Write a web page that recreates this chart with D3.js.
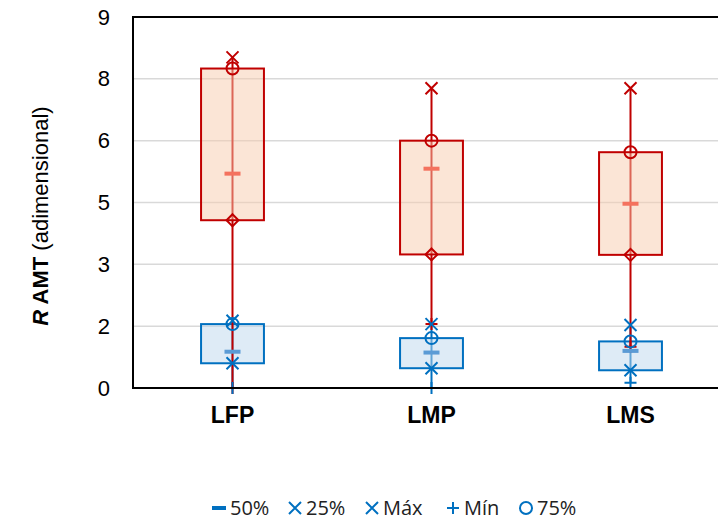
<!DOCTYPE html>
<html><head><meta charset="utf-8">
<script src="https://cdn.jsdelivr.net/npm/d3@7/dist/d3.min.js"></script>
<style>body{margin:0;background:#fff}svg{display:block}</style>
</head><body><svg id="c" width="718" height="521"></svg>
<script>
const categories = ["LFP","LMP","LMS"];
const redMax = [8.02, 7.27, 7.27];
const red75 = [7.75, 6.0, 5.72];
const red50 = [5.2, 5.32, 4.47];
const red25 = [4.07, 3.24, 3.23];
const redMin = [0, 1.55, 1.0];
const blueMax = [1.63, 1.55, 1.53];
const blue75 = [1.55, 1.21, 1.13];
const blue50 = [0.88, 0.86, 0.90];
const blue25 = [0.60, 0.48, 0.43];
const blueMin = [0, 0, 0.13];
const tickValues = [0, 1.5, 3, 4.5, 6, 7.5, 9];
const tickLabels = ["0","2","3","5","6","8","9"];
const legendLabels = ["50%","25%","Máx","Mín","75%"];

const svg = d3.select("#c");
const L = 133, T = 17, B = 388, R = 730;
const y = d3.scaleLinear().domain([0, 9]).range([B, T]);
const x = d3.scaleBand().domain(categories).range([L, R]).padding(0);
const cx = c => x(c) + x.bandwidth() / 2;
const boxW = x.bandwidth() * 0.316;

// gridlines
svg.append("g").selectAll("line").data(tickValues.filter(v => v > 0 && v < 9)).join("line")
  .attr("x1", L).attr("x2", R).attr("y1", d => y(d)).attr("y2", d => y(d))
  .attr("stroke", "#d9d9d9").attr("stroke-width", 1.5);

const RED = "#c00000", BLUE = "#0070c0";
const series = [
  {col: BLUE, fill: "#bdd7ee", med: "#5b9bd5", max: blueMax, q3: blue75, q2: blue50, q1: blue25, min: blueMin, q1sym: "x"},
  {col: RED, fill: "#f8cbad", med: "#f4725e", max: redMax, q3: red75, q2: red50, q1: red25, min: redMin, q1sym: "diamond"}
];

function sym(g, type, px, py, col) {
  const s = 6;
  if (type === "x") {
    g.append("path").attr("d", `M${px-s},${py-s}L${px+s},${py+s}M${px-s},${py+s}L${px+s},${py-s}`)
      .attr("stroke", col).attr("stroke-width", 2).attr("fill", "none");
  } else if (type === "plus") {
    g.append("path").attr("d", `M${px-s},${py}L${px+s},${py}M${px},${py-s}L${px},${py+s}`)
      .attr("stroke", col).attr("stroke-width", 2).attr("fill", "none");
  } else if (type === "circle") {
    g.append("circle").attr("cx", px).attr("cy", py).attr("r", 6)
      .attr("stroke", col).attr("stroke-width", 2).attr("fill", "none");
  } else if (type === "diamond") {
    g.append("path").attr("d", `M${px},${py-s}L${px+s},${py}L${px},${py+s}L${px-s},${py}Z`)
      .attr("stroke", col).attr("stroke-width", 2).attr("fill", "none");
  } else if (type === "dash") {
    g.append("rect").attr("x", px-8).attr("y", py-2).attr("width", 16).attr("height", 4).attr("fill", col);
  }
}

const gPlot = svg.append("g");
series.forEach(s => {
  const g = gPlot.append("g");
  categories.forEach((c, i) => {
    g.append("line").attr("x1", cx(c)).attr("x2", cx(c))
      .attr("y1", y(s.max[i])).attr("y2", y(s.min[i]))
      .attr("stroke", s.col).attr("stroke-width", 2);
  });
  categories.forEach((c, i) => {
    g.append("rect").attr("x", cx(c) - boxW/2).attr("width", boxW)
      .attr("y", y(s.q3[i])).attr("height", y(s.q1[i]) - y(s.q3[i]))
      .attr("fill", s.fill).attr("fill-opacity", 0.5)
      .attr("stroke", s.col).attr("stroke-width", 2);
  });
});
series.slice().reverse().forEach(s => {
  const g = gPlot.append("g");
  categories.forEach((c, i) => {
    sym(g, "plus", cx(c), y(s.min[i]), s.col);
  });
});
series.forEach(s => {
  const g = gPlot.append("g");
  categories.forEach((c, i) => {
    const px = cx(c);
    sym(g, "dash", px, y(s.q2[i]), s.med);
    sym(g, s.q1sym, px, y(s.q1[i]), s.col);
    sym(g, "x", px, y(s.max[i]), s.col);
    sym(g, "circle", px, y(s.q3[i]), s.col);
  });
});

// frame
svg.append("path").attr("d", `M${R},${T}H${L}V${B}H${R}`).attr("fill", "none")
  .attr("stroke", "#000").attr("stroke-width", 2);

// y axis
const ya = svg.append("g").attr("transform", `translate(${L},0)`)
  .call(d3.axisLeft(y).tickValues(tickValues).tickSize(0).tickPadding(23)
    .tickFormat((d, i) => tickLabels[i]));
ya.select(".domain").remove();
ya.selectAll("text").attr("font-family", "Liberation Sans, Arial, sans-serif")
  .attr("font-size", 22).attr("fill", "#000");

// x axis
const xa = svg.append("g").attr("transform", `translate(0,${B})`)
  .call(d3.axisBottom(x).tickSize(0).tickPadding(19));
xa.select(".domain").remove();
xa.selectAll("text").attr("font-family", "Liberation Sans, Arial, sans-serif")
  .attr("font-size", 23).attr("font-weight", "bold").attr("fill", "#000");

// y title
const yt = svg.append("text").attr("transform", "translate(48,216) rotate(-90)")
  .attr("text-anchor", "middle").attr("font-family", "Liberation Sans, Arial, sans-serif")
  .attr("font-size", 22).attr("fill", "#000");
yt.append("tspan").attr("font-weight", "bold").attr("font-style", "italic").text("R");
yt.append("tspan").attr("font-weight", "bold").text(" AMT");
yt.append("tspan").text(" (adimensional)");

// legend
const legSyms = ["dash", "x", "x", "plus", "circle"];
const legX = [219, 295, 372, 453, 526];
const lg = svg.append("g");
legendLabels.forEach((lab, i) => {
  const px = legX[i], py = 508;
  if (legSyms[i] === "dash") {
    lg.append("rect").attr("x", px-7).attr("y", py-2).attr("width", 14).attr("height", 4).attr("fill", BLUE);
  } else sym(lg, legSyms[i], px, py, BLUE);
  lg.append("text").attr("x", px + 11).attr("y", py).attr("dy", "0.36em")
    .attr("font-family", "Open Sans, sans-serif").attr("font-size", 20).attr("fill", "#222").text(lab);
});
</script></body></html>
